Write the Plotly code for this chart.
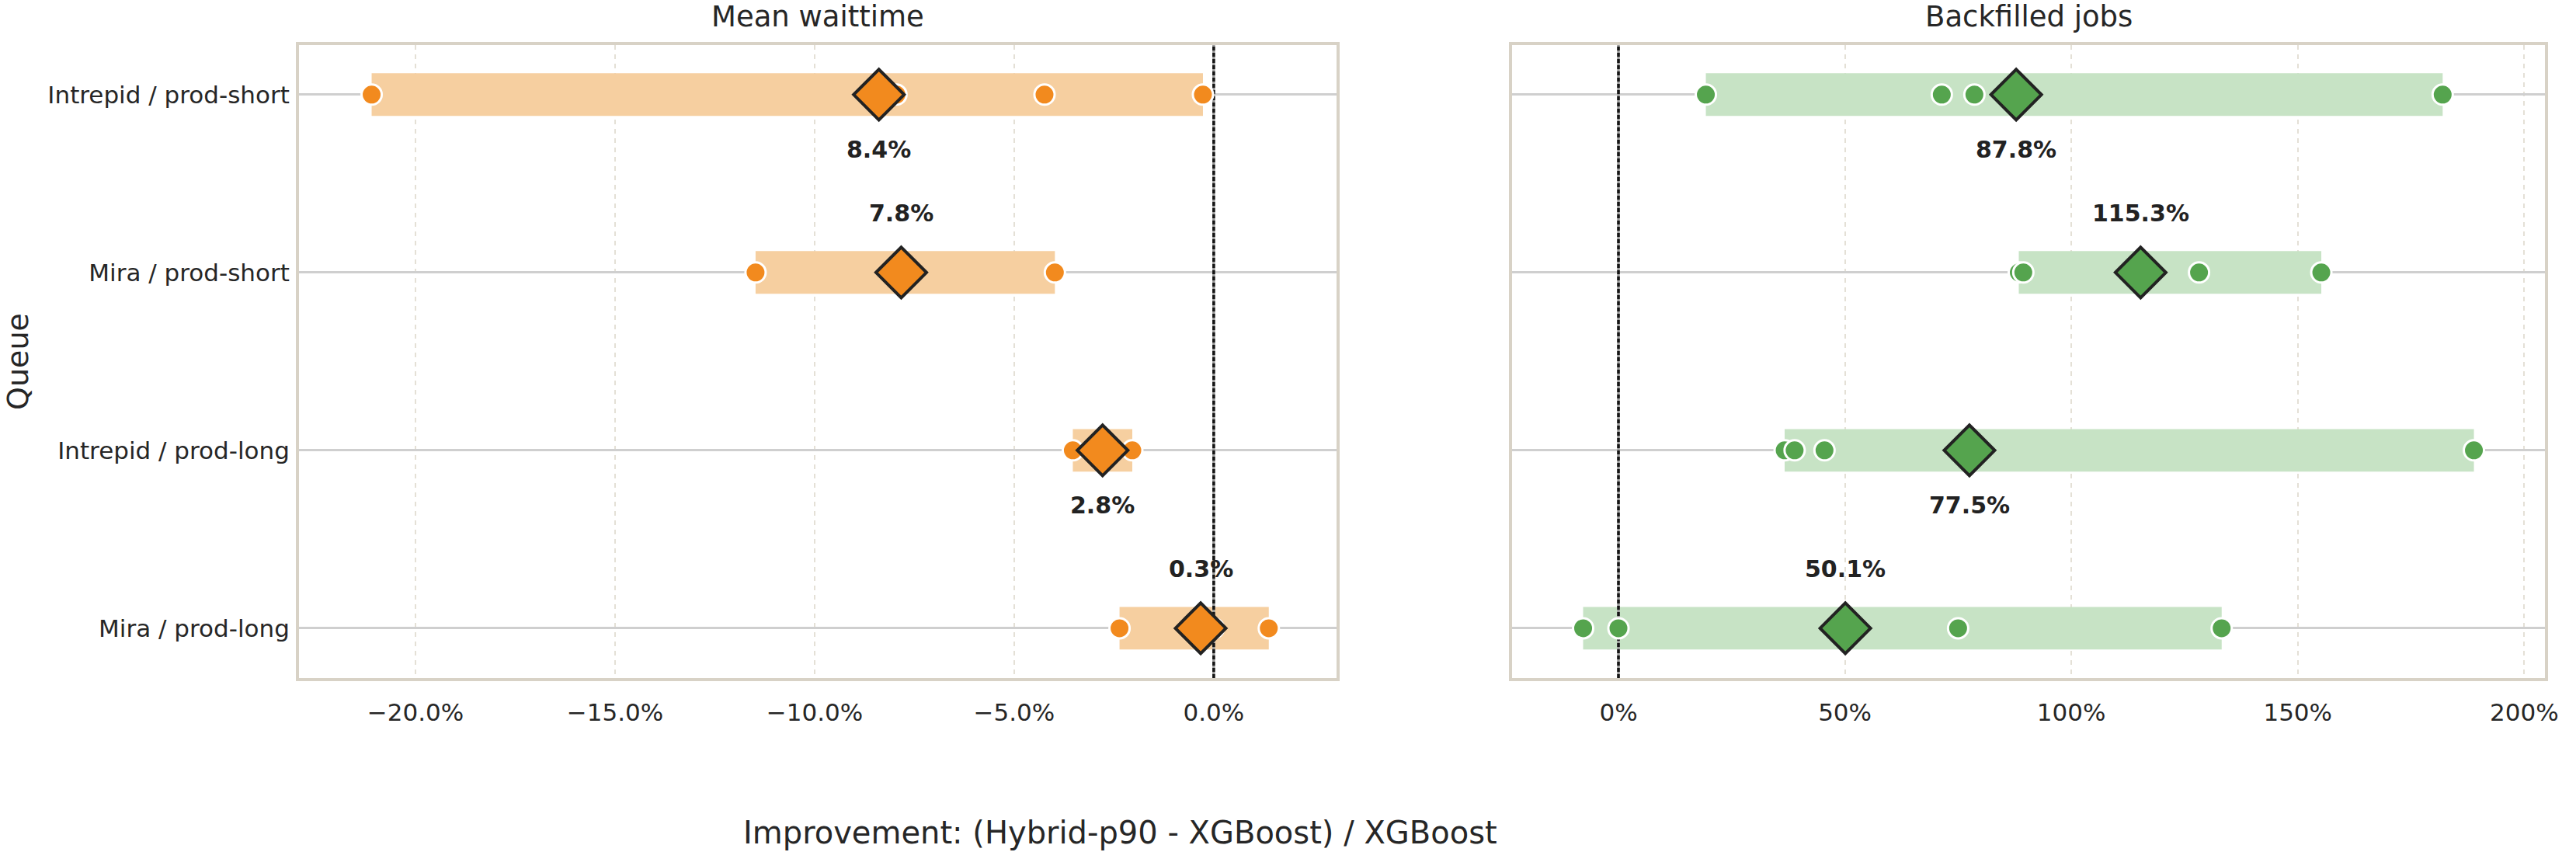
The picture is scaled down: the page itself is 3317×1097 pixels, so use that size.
import plotly.graph_objects as go

# ---------------- data ----------------
queues = ["Intrepid / prod-short", "Mira / prod-short", "Intrepid / prod-long", "Mira / prod-long"]

# per-run improvements (%), Mean waittime panel
wait_runs = [
    [-21.1, -7.95, -4.24, -0.27],
    [-11.48, -8.03, -3.98],
    [-3.53, -2.04],
    [-2.36, 0.0, 1.38],
]
# per-run improvements (%), Backfilled jobs panel
backfill_runs = [
    [19.3, 71.4, 78.6, 182.0],
    [88.4, 89.4, 128.2, 155.2],
    [36.7, 38.9, 45.5, 188.9],
    [-7.8, 0.0, 75.0, 133.2],
]

panel_titles = ["Mean waittime", "Backfilled jobs"]
left_ticks = [-20, -15, -10, -5, 0]
left_ticktext = ["\u221220.0%", "\u221215.0%", "\u221210.0%", "\u22125.0%", "0.0%"]
right_ticks = [0, 50, 100, 150, 200]
right_ticktext = ["0%", "50%", "100%", "150%", "200%"]
x_label = "Improvement: (Hybrid-p90 - XGBoost) / XGBoost"
y_label = "Queue"

# ---------------- style ----------------
W, H = 3317, 1097
FONT = "DejaVu Sans"
TXT = "#262626"
FRAME = "#D8D2C6"
Y_RANGE = [3.28, -0.28]
panels = [
    dict(runs=wait_runs, xa="x", ya="y", dot="#F28A1E", band="#F6CFA0"),
    dict(runs=backfill_runs, xa="x2", ya="y2", dot="#55A44E", band="#C7E3C5"),
]

fig = go.Figure()
rows = list(range(len(queues)))

for p in panels:
    runs = p["runs"]
    lo = [min(r) for r in runs]
    hi = [max(r) for r in runs]
    means = [sum(r) / len(r) for r in runs]
    # zero reference line (under the bands, above the grid)
    fig.add_trace(go.Scatter(
        x=[0, 0], y=Y_RANGE, mode="lines", line=dict(color="#9a9a9a", width=3.5),
        xaxis=p["xa"], yaxis=p["ya"], showlegend=False, hoverinfo="skip"))
    fig.add_trace(go.Scatter(
        x=[0, 0], y=Y_RANGE, mode="lines", line=dict(color="#151515", width=3.5, dash="5px,3px"),
        xaxis=p["xa"], yaxis=p["ya"], showlegend=False, hoverinfo="skip"))
    # range band
    fig.add_trace(go.Bar(
        y=rows, x=[h - l for h, l in zip(hi, lo)], base=lo, orientation="h",
        width=0.24, marker=dict(color=p["band"], line=dict(width=0)),
        xaxis=p["xa"], yaxis=p["ya"], showlegend=False, hoverinfo="skip"))
    # individual runs
    xs, ys = [], []
    for i, r in enumerate(runs):
        xs += r
        ys += [i] * len(r)
    fig.add_trace(go.Scatter(
        x=xs, y=ys, mode="markers",
        marker=dict(symbol="circle", size=26, color=p["dot"], line=dict(color="white", width=3)),
        xaxis=p["xa"], yaxis=p["ya"], showlegend=False, hoverinfo="skip"))
    # mean diamond
    fig.add_trace(go.Scatter(
        x=means, y=rows, mode="markers",
        marker=dict(symbol="diamond", size=50, color=p["dot"], line=dict(color="#222222", width=4)),
        xaxis=p["xa"], yaxis=p["ya"], showlegend=False, hoverinfo="skip"))
    # labels
    for i, m in enumerate(means):
        below = (i % 2 == 0)
        fig.add_annotation(
            x=m, y=i, xref=p["xa"], yref=p["ya"], text="<b>%.1f%%</b>" % abs(m),
            showarrow=False, yshift=-71 if below else 76, yanchor="middle",
            font=dict(family=FONT, size=30, color="#222222"))

ydom = [1 - 873 / H, 1 - 57.7 / H]
xdom1 = [387 / W, 1730 / W]
xdom2 = [1957 / W, 3294 / W]

common_x = dict(showline=True, mirror=True, linecolor=FRAME, linewidth=4,
                showgrid=True, gridcolor="#E4E0D6", gridwidth=2, griddash="6px,6px",
                zeroline=False, ticks="", tickfont=dict(family=FONT, size=31, color=TXT),
                ticklabelstandoff=14)
common_y = dict(showline=True, mirror=True, linecolor=FRAME, linewidth=4,
                showgrid=True, gridcolor="#CFCFCF", gridwidth=3, zeroline=False,
                range=Y_RANGE, tickvals=rows, ticks="", domain=ydom)

fig.update_layout(
    width=W, height=H, margin=dict(l=0, r=0, t=0, b=0),
    paper_bgcolor="white", plot_bgcolor="white", barmode="overlay",
    font=dict(family=FONT, color=TXT),
    xaxis=dict(common_x, domain=xdom1, anchor="y", range=[-22.92, 3.08],
               tickvals=left_ticks, ticktext=left_ticktext),
    xaxis2=dict(common_x, domain=xdom2, anchor="y2", range=[-23.5, 204.6],
                tickvals=right_ticks, ticktext=right_ticktext),
    yaxis=dict(common_y, anchor="x", ticktext=queues,
               tickfont=dict(family=FONT, size=31, color=TXT), ticklabelstandoff=2),
    yaxis2=dict(common_y, anchor="x2", showticklabels=False),
)

# panel titles
for dom, t in zip([xdom1, xdom2], panel_titles):
    fig.add_annotation(x=(dom[0] + dom[1]) / 2, y=1 - 21 / H, xref="paper", yref="paper",
                       text=t, showarrow=False, xanchor="center", yanchor="middle",
                       font=dict(family=FONT, size=37, color=TXT))
# axis labels
fig.add_annotation(x=1450 / W, y=1 - 1072 / H, xref="paper", yref="paper", text=x_label,
                   showarrow=False, xanchor="center", yanchor="middle",
                   font=dict(family=FONT, size=40, color=TXT))
fig.add_annotation(x=23 / W, y=1 - 465 / H, xref="paper", yref="paper", text=y_label,
                   textangle=-90, showarrow=False, xanchor="center", yanchor="middle",
                   font=dict(family=FONT, size=38, color=TXT))

fig.write_html("out.html")
